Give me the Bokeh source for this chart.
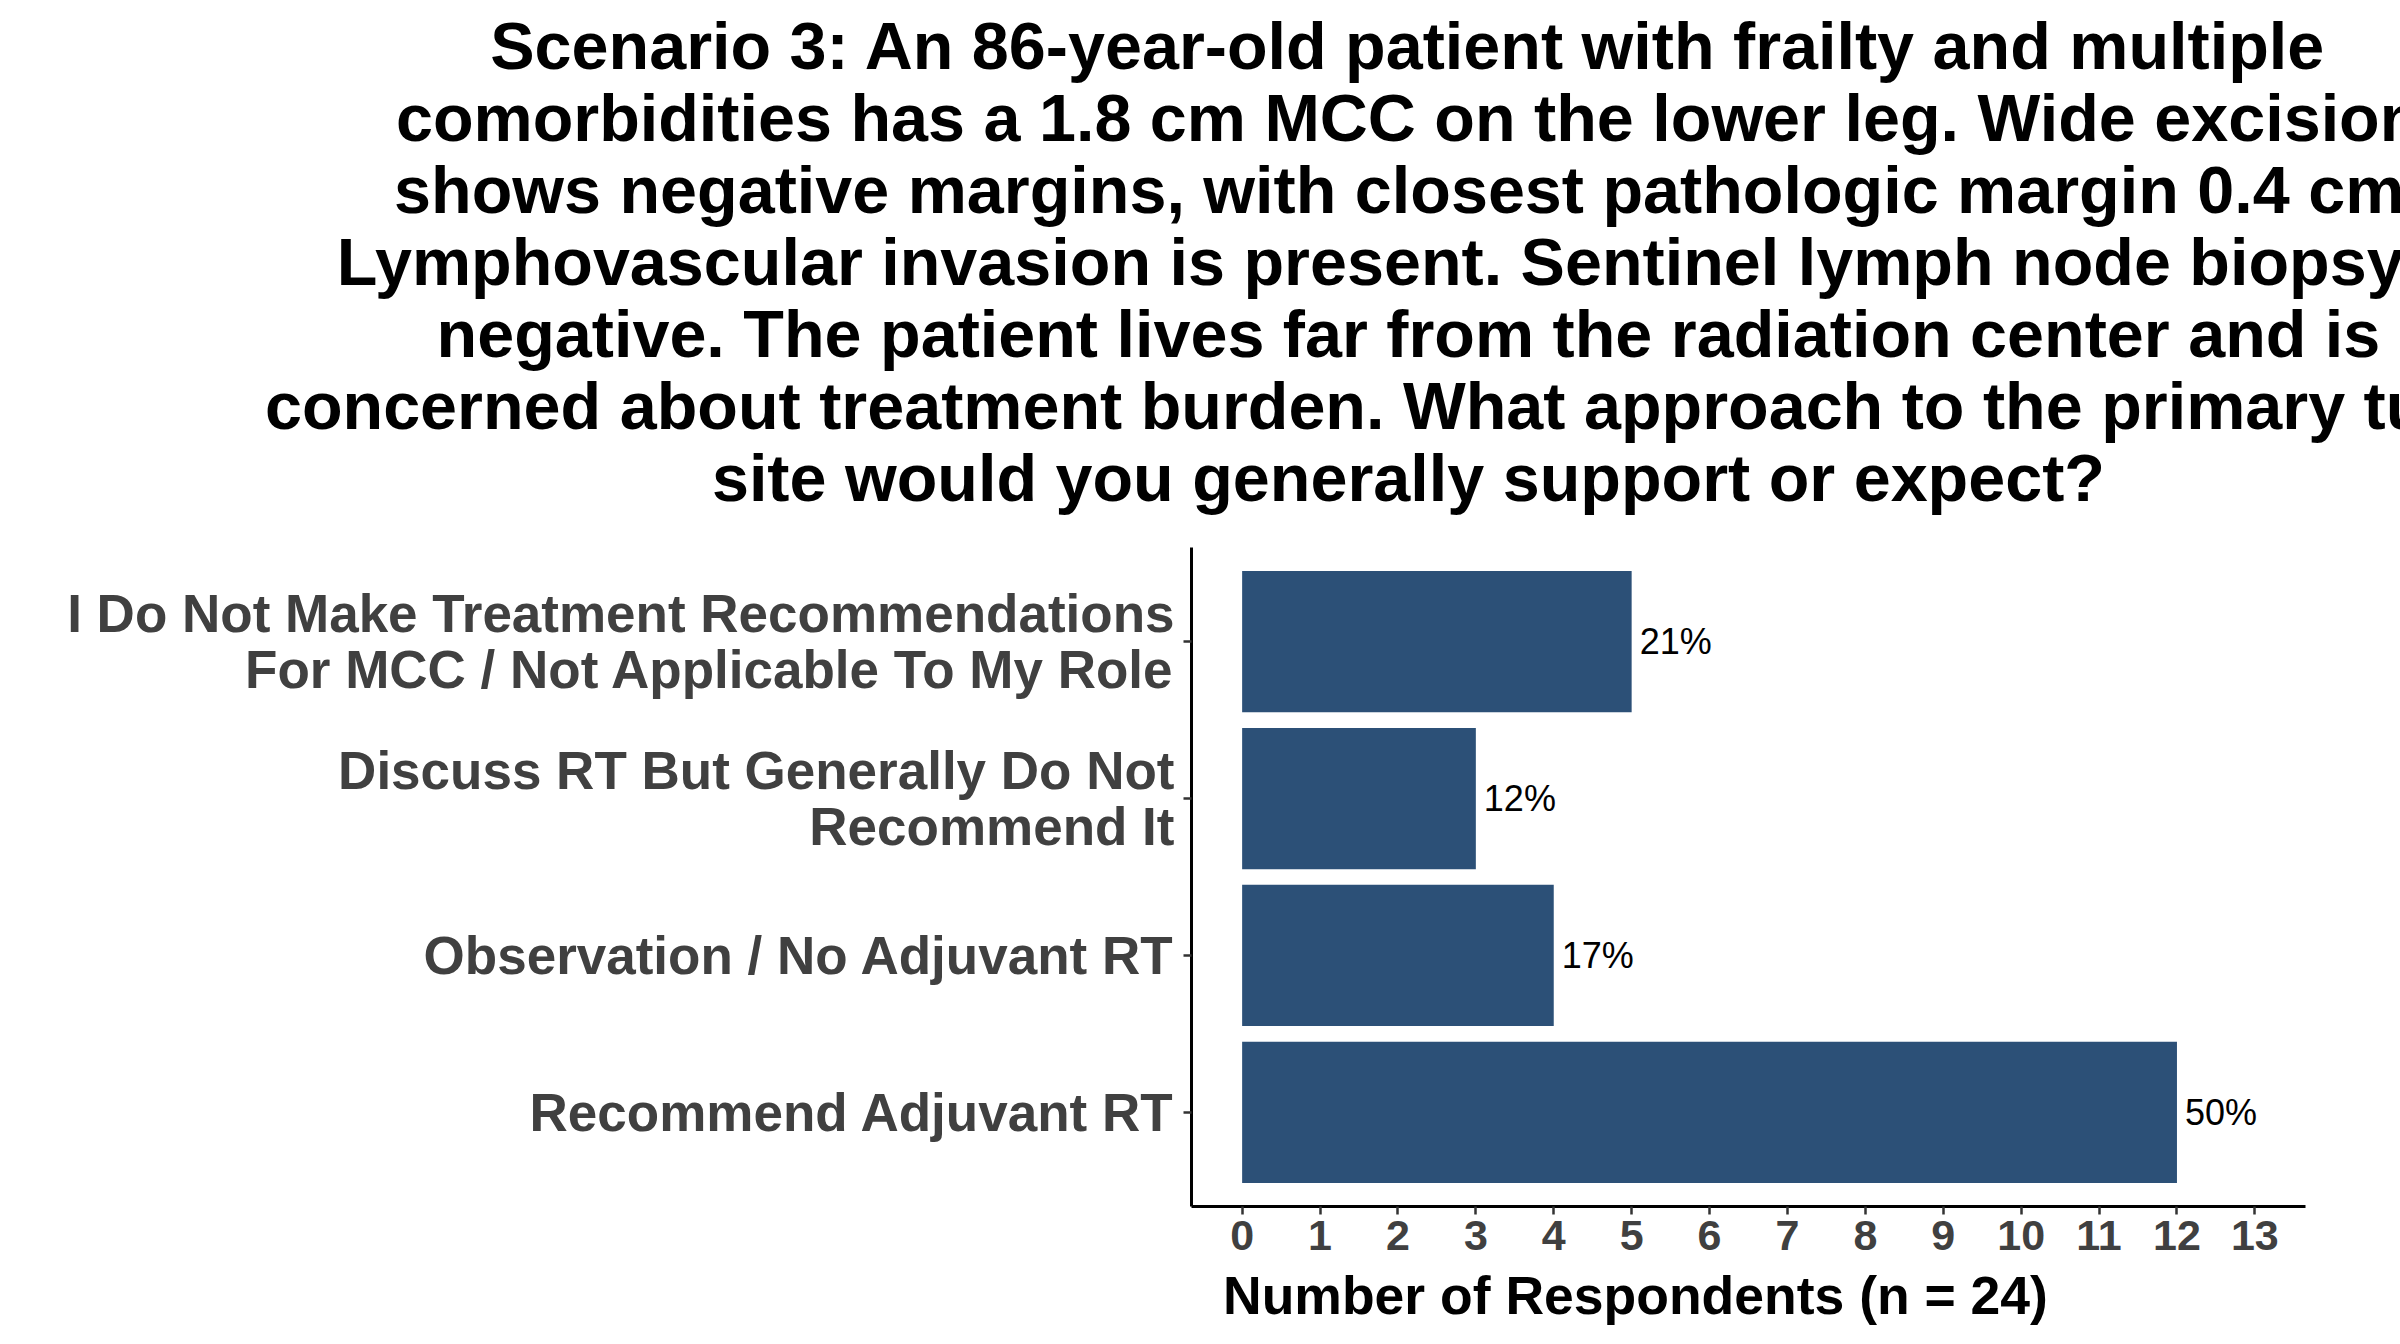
from bokeh.plotting import figure
from bokeh.models import Range1d, FactorRange, FixedTicker, ColumnDataSource, Title
from bokeh.core.properties import value
from bokeh.embed import file_html
from bokeh.resources import INLINE

categories = [
    "Recommend Adjuvant RT",
    "Observation / No Adjuvant RT",
    "Discuss RT But Generally Do Not\nRecommend It",
    "I Do Not Make Treatment Recommendations\nFor MCC / Not Applicable To My Role",
]
counts = [12, 4, 3, 5]
pct_labels = ["50%", "17%", "12%", "21%"]
x_ticks = list(range(0, 14))
title_lines = [
    "Scenario 3: An 86-year-old patient with frailty and multiple",
    "comorbidities has a 1.8 cm MCC on the lower leg. Wide excision",
    "shows negative margins, with closest pathologic margin 0.4 cm.",
    "Lymphovascular invasion is present. Sentinel lymph node biopsy is",
    "negative. The patient lives far from the radiation center and is",
    "concerned about treatment burden. What approach to the primary tumor",
    "site would you generally support or expect?",
]
x_title = "Number of Respondents (n = 24)"

FONT = "Liberation Sans"
BAR_COLOR = "#2C5077"
TICK_TEXT = "#404040"

# advance widths of Liberation Sans Bold (units per 1000 em), used to centre
# the title lines on a point left of the plot frame
_BOLD_W = {
    " ": 278, ":": 333, "-": 333, ".": 278, ",": 278, "?": 611, "(": 333, ")": 333,
    "=": 584, "/": 278, "%": 889,
    "A": 722, "B": 722, "C": 722, "D": 722, "E": 667, "F": 611, "G": 778, "H": 722,
    "I": 278, "J": 556, "K": 722, "L": 611, "M": 833, "N": 722, "O": 778, "P": 667,
    "Q": 778, "R": 722, "S": 667, "T": 611, "U": 722, "V": 667, "W": 944, "X": 667,
    "Y": 667, "Z": 611,
    "a": 556, "b": 611, "c": 556, "d": 611, "e": 556, "f": 333, "g": 611, "h": 611,
    "i": 278, "j": 278, "k": 556, "l": 278, "m": 889, "n": 611, "o": 611, "p": 611,
    "q": 611, "r": 389, "s": 556, "t": 333, "u": 611, "v": 556, "w": 778, "x": 556,
    "y": 556, "z": 500,
}
for _d in "0123456789":
    _BOLD_W[_d] = 556


def text_width(s, size):
    return sum(_BOLD_W.get(ch, 556) for ch in s) * size / 1000.0


W, H = 2400, 1336
FRAME_L, FRAME_R, FRAME_T, FRAME_B = 1191, 2305, 547, 1206
TITLE_CENTER = 1408
TITLE_SIZE = 66.5

src = ColumnDataSource(dict(cat=categories, n=counts, lab=pct_labels))

p = figure(
    width=W, height=H,
    x_range=Range1d(-0.65, 13.65),
    y_range=FactorRange(factors=categories, range_padding=0.05),
    output_backend="svg", toolbar_location=None,
    min_border_left=FRAME_L, min_border_right=W - FRAME_R,
    min_border_top=FRAME_T, min_border_bottom=H - FRAME_B,
)
p.outline_line_color = None
p.xgrid.visible = False
p.ygrid.visible = False
p.background_fill_color = "white"
p.border_fill_color = "white"

p.hbar(y="cat", left=0, right="n", height=0.9, source=src,
       fill_color=BAR_COLOR, line_color=None)
p.text(x="n", y="cat", text="lab", source=src, x_offset=8,
       text_baseline="middle", text_align="left",
       text_font=value(FONT), text_font_size="36px", text_color="black")

xa = p.xaxis[0]
xa.ticker = FixedTicker(ticks=x_ticks)
xa.minor_tick_line_color = None
xa.major_tick_in = 0
xa.major_tick_out = 8
xa.major_tick_line_color = "#333333"
xa.major_tick_line_width = 2.5
xa.axis_line_color = "black"
xa.axis_line_width = 3
xa.major_label_text_font = FONT
xa.major_label_text_font_style = "bold"
xa.major_label_text_font_size = "43px"
xa.major_label_text_color = TICK_TEXT
xa.major_label_standoff = 6

ya = p.yaxis[0]
ya.major_tick_in = 0
ya.major_tick_out = 8
ya.major_tick_line_color = "#333333"
ya.major_tick_line_width = 2.5
ya.axis_line_color = "black"
ya.axis_line_width = 3
ya.major_label_text_font = FONT
ya.major_label_text_font_style = "bold"
ya.major_label_text_font_size = "53px"
ya.major_label_text_color = TICK_TEXT
ya.major_label_text_line_height = 0.95
ya.major_label_standoff = 9

# x axis title, centred where the reference centres it
XT_SIZE = 53.5
XT_CENTER = 1635
p.add_layout(Title(text=x_title, align="left",
                   offset=XT_CENTER - text_width(x_title, XT_SIZE) / 2 - FRAME_L,
                   text_font=FONT, text_font_style="bold",
                   text_font_size=f"{XT_SIZE}px", text_color="black",
                   standoff=22), "below")

# spacer between the title block and the frame
p.add_layout(Title(text=" ", text_font=FONT, text_font_size="10px",
                   standoff=22), "above")
# title lines, nearest the frame first
for line in reversed(title_lines):
    p.add_layout(Title(text=line, align="left",
                       offset=TITLE_CENTER - text_width(line, TITLE_SIZE) / 2 - FRAME_L,
                       text_font=FONT, text_font_style="bold",
                       text_font_size=f"{TITLE_SIZE}px", text_color="black",
                       standoff=-4), "above")

open("out.html", "w").write(file_html(p, INLINE))
